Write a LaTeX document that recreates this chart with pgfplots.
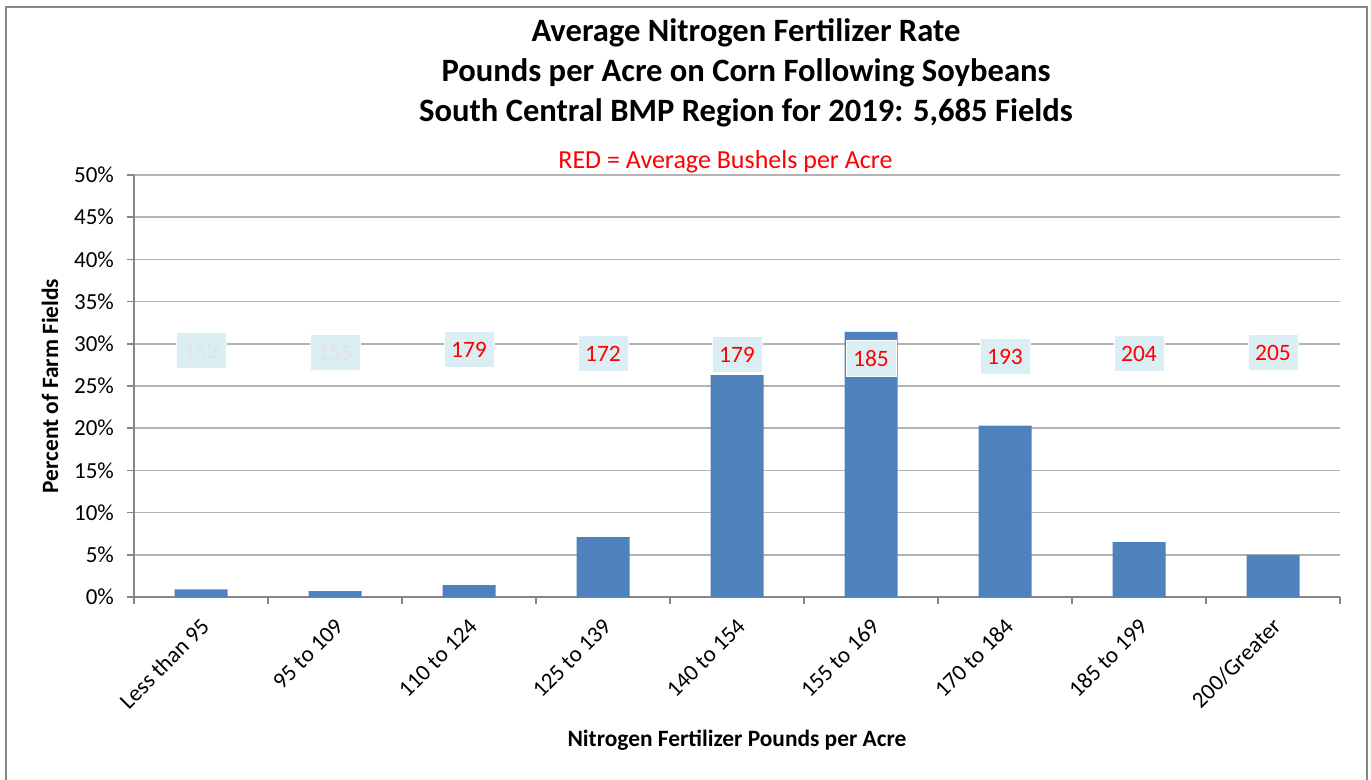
\documentclass[border=0pt]{standalone}
\usepackage{fontspec}
\setmainfont{Carlito}
\usepackage{pgfplots}
\pgfplotsset{compat=1.18}
\definecolor{barblue}{HTML}{4F81BD}
\definecolor{boxfill}{HTML}{DBEEF4}
\definecolor{faint}{HTML}{E3E1EE}
\definecolor{gridc}{HTML}{B3B3B3}
\definecolor{axisc}{HTML}{868686}
\begin{document}
\begin{tikzpicture}
\path[use as bounding box] (0,0) rectangle (685.5pt,-390pt);
\draw[axisc, line width=1pt] (2.75pt,-3.5pt) rectangle (683.5pt,-394pt);
\node[font=\fontsize{16.3}{20}\selectfont\bfseries, align=center] at (373pt,-36.5pt) {Average Nitrogen Fertilizer Rate\\Pounds per Acre on Corn Following Soybeans\\South Central BMP Region for 2019: 5,685 Fields};
\node[font=\fontsize{13}{16}\selectfont, text=red] at (362.75pt,-81pt) {RED = Average Bushels per Acre};
\begin{axis}[
  at={(67pt,-298.5pt)}, anchor=south west,
  scale only axis, width=603pt, height=211pt,
  xmin=-0.5, xmax=8.5, ymin=0, ymax=50,
  axis x line*=bottom, axis y line*=left,
  axis line style={axisc, line width=0.75pt, -},
  ytick={0,5,...,50},
  yticklabel={\pgfmathprintnumber{\tick}\%},
  ymajorgrids, grid style={gridc, line width=0.75pt},
  major tick length=3.5pt, tick align=outside,
  tick style={axisc, line width=0.75pt},
  xtick={-0.5,0.5,...,8.5}, xticklabels={},
  extra x ticks={0,1,2,3,4,5,6,7,8},
  extra x tick labels={Less than 95,95 to 109,110 to 124,125 to 139,140 to 154,155 to 169,170 to 184,185 to 199,200/Greater},
  extra x tick style={major tick length=0pt, grid=none, xticklabel style={rotate=45, anchor=east, xshift=-4.1pt, yshift=-10.5pt}},
  ticklabel style={font=\fontsize{11.5}{13}\selectfont},
  /pgf/number format/assume math mode=true,
  yticklabel style={xshift=-3pt},
  ylabel={Percent of Farm Fields},
  xlabel={Nitrogen Fertilizer Pounds per Acre},
  label style={font=\fontsize{11.7}{14}\selectfont\bfseries},
  ylabel style={at={(axis description cs:-0.0697,0.5)}, anchor=center},
  xlabel style={at={(axis description cs:0.5,-0.339)}, anchor=center},
  clip=false,
]
\addplot[ybar, bar width=26.5pt, fill=barblue, draw=none] coordinates {
  (0,0.9) (1,0.7) (2,1.4) (3,7.1) (4,26.3) (5,31.4) (6,20.3) (7,6.5) (8,5.0)
};
\addplot[draw=none, mark=none, nodes near coords, point meta=explicit symbolic,
  every node near coord/.style={anchor=center, fill=boxfill, draw=white, line width=0.5pt,
    minimum width=25pt, minimum height=18pt, inner sep=0pt, text=faint,
    font=\fontsize{11.75}{13}\selectfont}]
  coordinates {(0,29.15)[152] (1,28.95)[155]};
\addplot[draw=none, mark=none, nodes near coords, point meta=explicit symbolic,
  every node near coord/.style={anchor=center, fill=boxfill, draw=white, line width=0.5pt,
    minimum width=25pt, minimum height=18pt, inner sep=0pt, text=red,
    font=\fontsize{11.75}{13}\selectfont}]
  coordinates {(2,29.27)[179] (3,28.85)[172] (4,28.73)[179] (5,28.26)[185] (6,28.5)[193] (7,28.85)[204] (8,28.97)[205]};
\end{axis}
\end{tikzpicture}
\end{document}
